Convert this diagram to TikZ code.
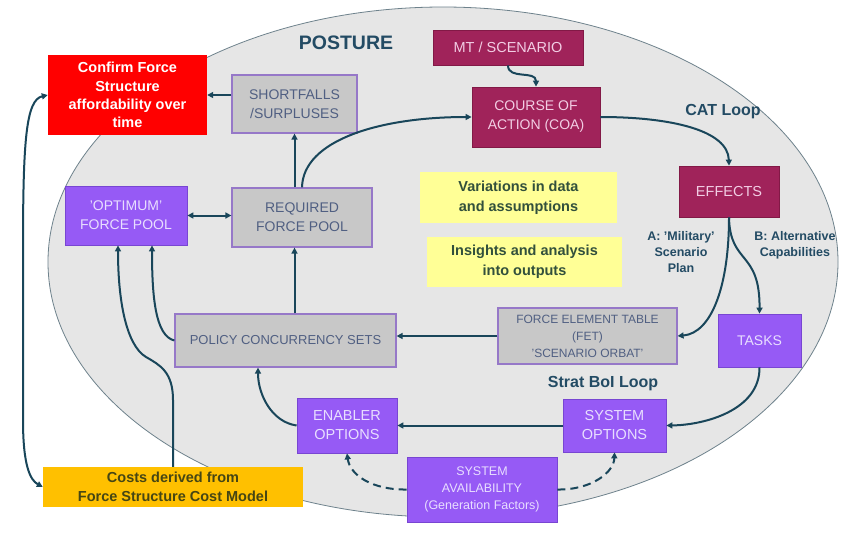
\documentclass[tikz,border=0pt]{standalone}
\usepackage{fontspec}
\setmainfont{Liberation Sans}
\usetikzlibrary{arrows.meta}
\definecolor{ellf}{RGB}{230,230,230}
\definecolor{elld}{RGB}{110,130,140}
\definecolor{lnc}{RGB}{25,70,90}
\definecolor{lbc}{RGB}{35,75,100}
\definecolor{grf}{RGB}{200,200,200}
\definecolor{grd}{RGB}{150,120,200}
\definecolor{grt}{RGB}{80,95,130}
\definecolor{puf}{RGB}{150,90,245}
\definecolor{pud}{RGB}{120,70,210}
\definecolor{put}{RGB}{232,222,255}
\definecolor{maf}{RGB}{160,35,90}
\definecolor{mad}{RGB}{130,25,70}
\definecolor{mat}{RGB}{242,205,228}
\definecolor{yef}{RGB}{255,255,150}
\definecolor{yet}{RGB}{50,80,60}
\definecolor{cof}{RGB}{255,192,0}
\definecolor{cot}{RGB}{70,70,20}
\definecolor{rdf}{RGB}{255,0,0}
\newcommand\fsz[2]{\fontsize{#1}{#2}\selectfont}
\tikzset{mytip/.tip={Triangle[length=6pt,width=6pt]}}
\begin{document}
\begin{tikzpicture}[x=1pt,y=-1pt,
  conn/.style={draw=lnc, line width=2pt, -mytip},
  dconn/.style={conn, dash pattern=on 8pt off 5pt},
  box/.style={rectangle, align=center, inner sep=1pt},
  grbox/.style={box, fill=grf, draw=grd, line width=1.2pt, text=grt},
  pubox/.style={box, fill=puf, draw=pud, line width=0.8pt, text=put},
  mabox/.style={box, fill=maf, draw=mad, line width=0.8pt, text=mat},
  yebox/.style={box, fill=yef, text=yet, font=\bfseries\fsz{14.5}{20}},
  lbl/.style={text=lbc, align=center}]
\useasboundingbox (0,0) rectangle (841,539);
\fill[white] (0,0) rectangle (841,539);
% background ellipse
\draw[draw=elld, line width=0.8pt, fill=ellf] (443,262) ellipse [x radius=395pt, y radius=255pt];

% labels
\node[lbl, font=\bfseries\fsz{19.5}{21}] (posture) at (346,43) {POSTURE};
\node[lbl, font=\bfseries\fsz{16}{18}] (catloop) at (723,112) {CAT Loop};
\node[lbl, font=\bfseries\fsz{16}{18}] (stratloop) at (603,384) {Strat BoI Loop};
\node[lbl, font=\bfseries\fsz{12.5}{16}] (labA) at (681,252) {A: 'Military'\\Scenario\\Plan};
\node[lbl, font=\bfseries\fsz{12.5}{16}] (labB) at (795,245) {B: Alternative\\Capabilities};

% boxes
\node[box, fill=rdf, text=white, font=\bfseries\fsz{14.5}{18.3}, minimum width=159pt, minimum height=80pt] (confirm) at (127.5,95) {Confirm Force\\Structure\\affordability over\\time};
\node[grbox, font=\fsz{14}{19}, minimum width=125pt, minimum height=58pt] (short) at (294.5,104) {SHORTFALLS\\/SURPLUSES};
\node[pubox, font=\fsz{14}{19}, minimum width=122pt, minimum height=59pt] (opt) at (126,215.5) {'OPTIMUM'\\FORCE POOL};
\node[grbox, font=\fsz{14}{19}, minimum width=140pt, minimum height=59pt] (req) at (302,217.5) {REQUIRED\\FORCE POOL};
\node[mabox, font=\fsz{14.5}{19}, minimum width=150pt, minimum height=35pt] (mt) at (508,47.5) {MT / SCENARIO};
\node[mabox, font=\fsz{14}{19}, minimum width=128pt, minimum height=60pt] (coa) at (536,117) {COURSE OF\\ACTION (COA)};
\node[mabox, font=\fsz{14.5}{19}, minimum width=100pt, minimum height=51pt] (effects) at (729,191.5) {EFFECTS};
\node[yebox, minimum width=197pt, minimum height=51pt] (yel1) at (518.5,197.5) {Variations in data\\and assumptions};
\node[yebox, minimum width=195pt, minimum height=50pt] (yel2) at (524.5,262) {Insights and analysis\\into outputs};
\node[grbox, font=\fsz{12}{17}, minimum width=179pt, minimum height=56pt] (fet) at (587.5,336) {FORCE ELEMENT TABLE\\(FET)\\'SCENARIO ORBAT'};
\node[pubox, font=\fsz{14}{19}, minimum width=83pt, minimum height=53pt] (tasks) at (759.5,340.5) {TASKS};
\node[grbox, font=\fsz{13}{17}, minimum width=221pt, minimum height=53pt] (policy) at (285.5,340.5) {POLICY CONCURRENCY SETS};
\node[pubox, font=\fsz{14.5}{19}, minimum width=103pt, minimum height=53pt] (sysopt) at (614.5,425.5) {SYSTEM\\OPTIONS};
\node[pubox, font=\fsz{14.5}{19}, minimum width=100pt, minimum height=55pt] (enabler) at (347,425.5) {ENABLER\\OPTIONS};
\node[pubox, font=\fsz{12.5}{17}, minimum width=150pt, minimum height=65pt] (sysav) at (482,489.5) {SYSTEM\\AVAILABILITY\\(Generation Factors)};
\node[box, fill=cof, text=cot, font=\bfseries\fsz{14.5}{19}, minimum width=260pt, minimum height=40pt] (costs) at (173,487) {Costs derived from\\Force Structure Cost Model};

% connectors
\draw[conn] (short.west |- confirm.east) -- (confirm.east);
\draw[conn] (short.south |- req.north) -- (short.south);
\draw[conn] (req.north) .. controls (303,140) and (380,117) .. (coa.west);
\draw[conn, mytip-mytip] (opt.east) -- (opt.east -| req.west);
\draw[conn] (mt.south) .. controls (508,80) and (536,70) .. (coa.north);
\draw[conn] (coa.east) .. controls (670,117) and (728,130) .. (effects.north);
\draw[conn] (effects.south) .. controls (729,285) and (712,333) .. (fet.east);
\draw[conn] (effects.south) .. controls (730,265) and (760,250) .. (tasks.north);
\draw[conn] (fet.west) -- (fet.west -| policy.east);
\draw[conn] (short.south |- policy.north) -- (short.south |- req.south);
\coordinate (optin1) at ([xshift=26pt]opt.south);
\coordinate (optin2) at ([xshift=-8pt]opt.south);
\draw[conn] (policy.west) .. controls (155,336) and (152,295) .. (optin1);
\draw[conn] (costs.north) -- (173,400) .. controls (173,372) and (160,365) .. (146,357) .. controls (126,345) and (118,300) .. (optin2);
\draw[conn, mytip-mytip] (confirm.west) .. controls (26,100) and (23,140) .. (23,250) -- (23,420) .. controls (23,465) and (30,480) .. (costs.west);
\draw[conn] (tasks.south) .. controls (760,410) and (705,425) .. (sysopt.east);
\draw[conn] (sysopt.west) -- (enabler.east);
\coordinate (polin) at ([xshift=-27.5pt]policy.south);
\draw[conn] (enabler.west) .. controls (272,422) and (258,395) .. (polin);
\draw[dconn] (sysav.west) .. controls (372,490) and (350,475) .. (enabler.south);
\draw[dconn] (sysav.east) .. controls (592,490) and (614,472) .. (sysopt.south);
\end{tikzpicture}
\end{document}
